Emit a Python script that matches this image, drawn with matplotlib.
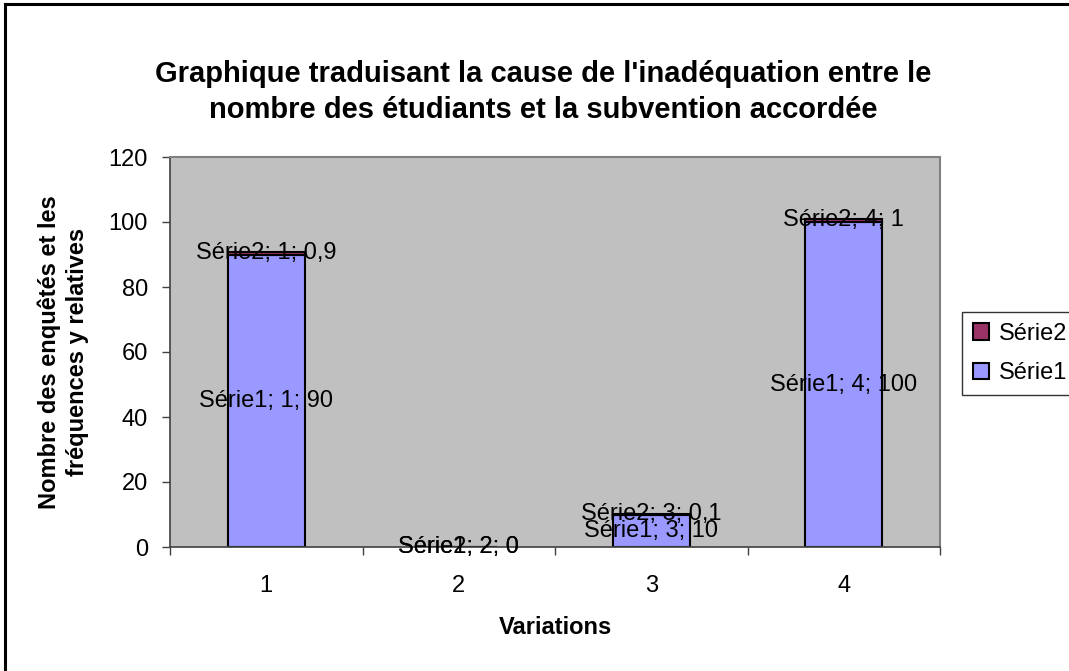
import matplotlib
matplotlib.use("Agg")
import matplotlib.pyplot as plt
from matplotlib.lines import Line2D
from matplotlib.ticker import FixedLocator

# ── Données ──
categories = [1, 2, 3, 4]
serie1 = [90, 0, 10, 100]
serie2 = [0.9, 0, 0.1, 1]
serie1_labels = ["Série1; 1; 90", "Série1; 2; 0", "Série1; 3; 10", "Série1; 4; 100"]
serie2_labels = ["Série2; 1; 0,9", "Série2; 2; 0", "Série2; 3; 0,1", "Série2; 4; 1"]
y_ticks = [0, 20, 40, 60, 80, 100, 120]

plt.rcParams["font.family"] = ["Liberation Sans", "DejaVu Sans"]

W, H = 1069, 671
fig = plt.figure(figsize=(W / 100, H / 100), dpi=100)
fig.patch.set_facecolor("white")

# zone de tracé (pixels mesurés sur la référence)
x0, x1, y0, y1 = 170, 940, 157, 547
ax = fig.add_axes([x0 / W, 1 - y1 / H, (x1 - x0) / W, (y1 - y0) / H])
ax.set_facecolor("#C0C0C0")

b1 = ax.bar(categories, serie1, width=0.4, color="#9999FF",
            edgecolor="black", linewidth=1.5, label="Série1", zorder=2)
b2 = ax.bar(categories, serie2, width=0.4, bottom=serie1, color="#993366",
            edgecolor="black", linewidth=1.5, label="Série2", zorder=2)

FS = 17
ax.bar_label(b1, labels=serie1_labels, label_type="center", fontsize=FS, zorder=3)
ax.bar_label(b2, labels=serie2_labels, label_type="center", fontsize=FS, zorder=3)

ax.set_xlim(0.5, 4.5)
ax.set_ylim(0, 120)
ax.set_yticks(y_ticks)
ax.set_xticks(categories)
ax.xaxis.set_minor_locator(FixedLocator([0.5, 1.5, 2.5, 3.5, 4.5]))
ax.tick_params(axis="x", which="major", length=0, pad=20, labelsize=FS)
ax.tick_params(axis="x", which="minor", length=6, width=1, color="#404040")
ax.tick_params(axis="y", length=6, width=1, color="#404040", labelsize=FS, pad=10)

for side in ("left", "bottom"):
    ax.spines[side].set_color("#404040")
    ax.spines[side].set_linewidth(1.2)
for side in ("top", "right"):
    ax.spines[side].set_color("#808080")
    ax.spines[side].set_linewidth(1.5)

ax.set_ylabel("Nombre des enquêtés et les\nfréquences y relatives",
              fontsize=FS, fontweight="bold", labelpad=14, linespacing=1.3)
ax.set_xlabel("Variations", fontsize=FS, fontweight="bold", labelpad=14)

fig.text(543 / W, 1 - 92 / H,
         "Graphique traduisant la cause de l'inadéquation entre le\n"
         "nombre des étudiants et la subvention accordée",
         ha="center", va="center", fontsize=21, fontweight="bold",
         linespacing=1.35)

handles, labels = ax.get_legend_handles_labels()
leg = fig.legend(handles[::-1], labels[::-1], loc="upper left",
                 bbox_to_anchor=(962 / W, 1 - 312 / H), fontsize=FS,
                 frameon=True, fancybox=False, handlelength=0.7,
                 handleheight=0.7, handletextpad=0.4, borderpad=0.45,
                 labelspacing=0.75, borderaxespad=0)
leg.get_frame().set_edgecolor("black")
leg.get_frame().set_linewidth(1.0)

# cadre extérieur (haut et gauche visibles)
fig.add_artist(Line2D([5 / W, 5 / W], [0, 1 - 4 / H], transform=fig.transFigure,
                      color="black", linewidth=2.2))
fig.add_artist(Line2D([5 / W, 1], [1 - 4 / H, 1 - 4 / H], transform=fig.transFigure,
                      color="black", linewidth=2.2))

fig.savefig("out.png", dpi=100, facecolor=fig.get_facecolor())
plt.close(fig)
